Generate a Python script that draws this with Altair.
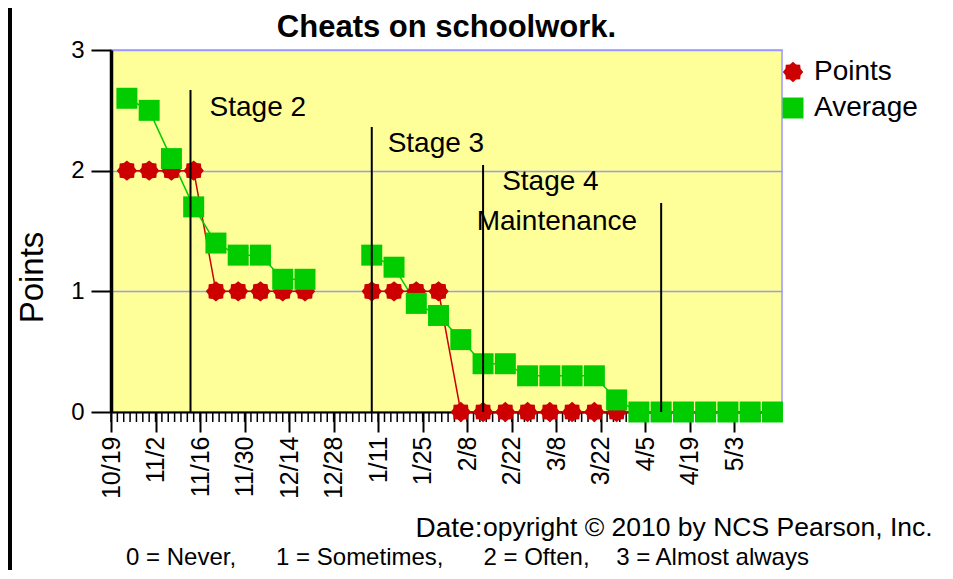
import math
import altair as alt
import pandas as pd

# ---------------- data ----------------
point_dates_1 = ["2009-10-24", "2009-10-31", "2009-11-07", "2009-11-14", "2009-11-21",
                 "2009-11-28", "2009-12-05", "2009-12-12", "2009-12-19"]
point_values_1 = [2, 2, 2, 2, 1, 1, 1, 1, 1]
average_values_1 = [2.6, 2.5, 2.1, 1.7, 1.4, 1.3, 1.3, 1.1, 1.1]

point_dates_2 = ["2010-01-09", "2010-01-16", "2010-01-23", "2010-01-30", "2010-02-06",
                 "2010-02-13", "2010-02-20", "2010-02-27", "2010-03-06", "2010-03-13",
                 "2010-03-20", "2010-03-27", "2010-04-03", "2010-04-10", "2010-04-17",
                 "2010-04-24", "2010-05-01", "2010-05-08", "2010-05-15"]
point_values_2 = [1, 1, 1, 1, 0, 0, 0, 0, 0, 0, 0, 0, 0, 0, 0, 0, 0, 0, 0]
average_values_2 = [1.3, 1.2, 0.9, 0.8, 0.6, 0.4, 0.4, 0.3, 0.3, 0.3, 0.3, 0.1,
                    0, 0, 0, 0, 0, 0, 0]

phase_dates = ["2009-11-13", "2010-01-09", "2010-02-13", "2010-04-10"]
phase_tops = [2.668, 2.362, 2.047, 1.732]

stage_labels = ["Stage 2", "Stage 3", "Stage 4", "Maintenance"]
stage_label_dates = ["2009-11-19", "2010-01-14", "2010-02-19", "2010-02-11"]
stage_label_values = [2.453, 2.152, 1.84, 1.508]

major_ticks = ["2009-10-19", "2009-11-02", "2009-11-16", "2009-11-30", "2009-12-14",
               "2009-12-28", "2010-01-11", "2010-01-25", "2010-02-08", "2010-02-22",
               "2010-03-08", "2010-03-22", "2010-04-05", "2010-04-19", "2010-05-03"]
x_domain = ["2009-10-19", "2010-05-18"]
y_ticks = [0, 1, 2, 3]
series_names = ["Points", "Average"]

title_text = "Cheats on schoolwork."
x_title = "Date:"
copyright_text = "opyright \u00a9 2010 by NCS Pearson, Inc."
NB = "\u00a0"
caption_text = ("0 = Never," + NB * 6 + "1 = Sometimes," + NB * 6 + "2 = Often,"
                + NB * 4 + "3 = Almost always")

# ---------------- styling ----------------
FONT = "Liberation Sans"
RED = "#cc0000"
GREEN = "#00cc00"
GRID = "#9999ff"
W, H = 671, 362


def dt(s):
    y, m, d = (int(p) for p in s.split("-"))
    return alt.DateTime(year=y, month=m, date=d, utc=True)


# gear-like symbol for the "Points" series
gear_pts = []
for i in range(16):
    r = 0.97 if i % 2 == 0 else 0.78
    a = 2 * math.pi * i / 16
    gear_pts.append(f"{r * math.cos(a):.3f},{r * math.sin(a):.3f}")
GEAR = "M" + " L".join(gear_pts) + " Z"

x_scale = alt.Scale(type="utc", domain=[dt(s) for s in x_domain])
x_axis = alt.Axis(
    values=[dt(s) for s in major_ticks], format="%-m/%-d",
    labelAngle=270, labelAlign="right", labelBaseline="middle",
    labelFontSize=25, labelPadding=4, labelOverlap=False, labelFlush=False,
    labelColor="black",
    tickSize=20, tickWidth=2, tickColor="black",
    domainColor="black", domainWidth=2, grid=False,
    title=x_title, titleFontSize=28, titleFontWeight="normal", titleColor="black",
    titleX=304, titleY=124, titleAlign="left", titleBaseline="alphabetic", titleAngle=0,
)
y_scale = alt.Scale(domain=[0, 3], nice=False)
y_axis = alt.Axis(
    values=y_ticks, format="d", labelFontSize=24, labelPadding=7, labelColor="black",
    tickSize=20, tickWidth=2, tickColor="black",
    domainColor="black", domainWidth=3.5,
    grid=True, gridColor=GRID, gridWidth=1.5,
    title="Points", titleFontSize=33, titleFontWeight="normal", titleColor="black",
    titleX=-79, titleY=227, titleAngle=270, titleAlign="center", titleBaseline="middle",
)


def xenc(field):
    return alt.X(f"{field}:T", scale=x_scale, axis=x_axis)


def yenc(field):
    return alt.Y(f"{field}:Q", scale=y_scale, axis=y_axis)


# ---------------- tables ----------------
rows = []
segments = [(point_dates_1, point_values_1, average_values_1),
            (point_dates_2, point_values_2, average_values_2)]
for seg, (dates, pv, av) in enumerate(segments, start=1):
    for d, v in zip(dates, pv):
        rows.append({"date": d, "value": v, "series": "Points", "seg": seg})
for seg, (dates, pv, av) in enumerate(segments, start=1):
    for d, v in zip(dates, av):
        rows.append({"date": d, "value": v, "series": "Average", "seg": seg})
df = pd.DataFrame(rows)

minor_df = pd.DataFrame({"date": pd.date_range(x_domain[0], "2010-05-17", freq="2D").strftime("%Y-%m-%d")})
phase_df = pd.DataFrame({"date": phase_dates, "top": phase_tops, "bottom": [0] * len(phase_dates)})
stage_df = pd.DataFrame({"date": stage_label_dates, "value": stage_label_values, "label": stage_labels})

# ---------------- layers ----------------
minor_ticks = alt.Chart(minor_df).mark_rule(color="black", strokeWidth=1.5).encode(
    x=xenc("date"), y=alt.value(H), y2=alt.value(H + 10))

red_line = alt.Chart(df).transform_filter(alt.datum.series == "Points").mark_line(
    color=RED, strokeWidth=1.5).encode(x=xenc("date"), y=yenc("value"), detail="seg:N")

green_line = alt.Chart(df).transform_filter(alt.datum.series == "Average").mark_line(
    color=GREEN, strokeWidth=1.5).encode(x=xenc("date"), y=yenc("value"), detail="seg:N")

legend = alt.Legend(
    title=None, orient="none", legendX=668, legendY=8, padding=0,
    labelFontSize=28, labelColor="black", labelOffset=7, rowPadding=8,
    symbolSize=441, symbolOpacity=1, symbolStrokeWidth=0,
)
points = alt.Chart(df).mark_point(filled=True, opacity=1, size=441, strokeWidth=0).encode(
    x=xenc("date"), y=yenc("value"),
    color=alt.Color("series:N", scale=alt.Scale(domain=series_names, range=[RED, GREEN]),
                    legend=legend),
    shape=alt.Shape("series:N", scale=alt.Scale(domain=series_names, range=[GEAR, "square"]),
                    legend=legend),
)

phase_lines = alt.Chart(phase_df).mark_rule(color="black", strokeWidth=2).encode(
    x=xenc("date"), y=yenc("top"), y2=alt.Y2("bottom"))

stage_text = alt.Chart(stage_df).mark_text(
    align="left", baseline="alphabetic", fontSize=28, color="black").encode(
    x=xenc("date"), y=yenc("value"), text="label:N")

title = alt.Chart(pd.DataFrame({"t": [title_text]})).mark_text(
    align="center", baseline="alphabetic", fontSize=31, fontWeight="bold", color="black").encode(
    x=alt.value(W / 2), y=alt.value(-13), text="t:N")

copyright_mark = alt.Chart(pd.DataFrame({"t": [copyright_text]})).mark_text(
    align="left", baseline="alphabetic", fontSize=26.5, color="black").encode(
    x=alt.value(372), y=alt.value(H + 124), text="t:N")

caption = alt.Chart(pd.DataFrame({"t": [caption_text]})).mark_text(
    align="left", baseline="alphabetic", fontSize=24, color="black").encode(
    x=alt.value(15), y=alt.value(H + 153), text="t:N")

left_bar = alt.Chart(pd.DataFrame({"t": [0]})).mark_rule(color="black", strokeWidth=4).encode(
    x=alt.value(-101), y=alt.value(-42), y2=alt.value(H + 158))

chart = alt.layer(
    minor_ticks, red_line, green_line, points, phase_lines, stage_text,
    title, copyright_mark, caption, left_bar,
).properties(
    width=W, height=H,
    autosize=alt.AutoSizeParams(type="none"),
    padding={"left": 103, "top": 42, "right": 162, "bottom": 158},
).configure(
    font=FONT, background="white",
).configure_view(
    fill="#ffff99", stroke=GRID, strokeWidth=1.5,
)

chart.save("out.html", embed_options={"renderer": "svg", "actions": False})
